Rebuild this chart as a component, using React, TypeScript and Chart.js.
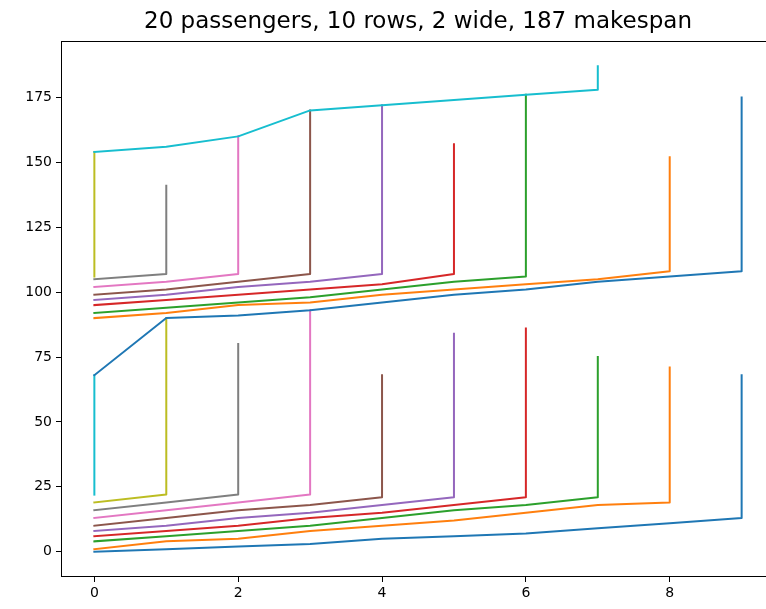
import { useEffect, useRef } from "react";
import { Chart, registerables } from "chart.js";

Chart.register(...registerables);

const TITLE = "20 passengers, 10 rows, 2 wide, 187 makespan";
const X_TICKS = [0, 2, 4, 6, 8];
const Y_TICKS = [0, 25, 50, 75, 100, 125, 150, 175];
const COLORS = ["#1f77b4", "#ff7f0e", "#2ca02c", "#d62728", "#9467bd", "#8c564b", "#e377c2", "#7f7f7f", "#bcbd22", "#17becf"];

// time at which each passenger reaches row 0,1,2,... (aisle walk), first batch
const walk0 = [0, 1, 2, 3, 5, 6, 7, 9, 11, 13];
const walk1 = [1, 4, 5, 8, 10, 12, 15, 18, 19];
const walk2 = [4, 6, 8, 10, 13, 16, 18, 21];
const walk3 = [6, 8, 10, 13, 15, 18, 21];
const walk4 = [8, 10, 13, 15, 18, 21];
const walk5 = [10, 13, 16, 18, 21];
const walk6 = [13, 16, 19, 22];
const walk7 = [16, 19, 22];
const walk8 = [19, 22];
const walk9 = [22];
// second batch
const walk10 = [68, 90, 91, 93, 96, 99, 101, 104, 106, 108];
const walk11 = [90, 92, 95, 96, 99, 101, 103, 105, 108];
const walk12 = [92, 94, 96, 98, 101, 104, 106];
const walk13 = [95, 97, 99, 101, 103, 107];
const walk14 = [97, 99, 102, 104, 107];
const walk15 = [99, 101, 104, 107];
const walk16 = [102, 104, 107];
const walk17 = [105, 107];
const walk18 = [106];
const walk19 = [154, 156, 160, 170, 172, 174, 176, 178];

// time at which each passenger is finally seated (end of vertical segment)
const seatedAt = [68, 71, 75, 86, 84, 68, 93, 80, 90, 68, 175, 152, 176, 157, 172, 170, 160, 141, 154, 187];

const WALKS = [walk0, walk1, walk2, walk3, walk4, walk5, walk6, walk7, walk8, walk9,
  walk10, walk11, walk12, walk13, walk14, walk15, walk16, walk17, walk18, walk19];

const FONT = "DejaVu Sans";

const spinesPlugin = {
  id: "spines",
  afterDatasetsDraw(chart: any) {
    const { ctx, chartArea } = chart;
    const l = Math.round(chartArea.left) - 0.5;
    const t = Math.round(chartArea.top) - 0.5;
    const r = Math.round(chartArea.right) + 0.5;
    const b = Math.round(chartArea.bottom) + 0.5;
    ctx.save();
    ctx.strokeStyle = "#000";
    ctx.lineWidth = 1;
    ctx.strokeRect(l, t, r - l, b - t);
    ctx.restore();
  },
};

export default function App() {
  const ref = useRef<HTMLCanvasElement>(null);
  useEffect(() => {
    if (!ref.current) return;
    const datasets = WALKS.map((w, i) => {
      const pts = w.map((t, k) => ({ x: k, y: t }));
      pts.push({ x: w.length - 1, y: seatedAt[i] });
      const c = COLORS[i % 10];
      return {
        label: "p" + i,
        data: pts,
        showLine: true,
        borderColor: c,
        backgroundColor: c,
        borderWidth: 2,
        pointRadius: 0,
        fill: false,
        tension: 0,
        borderCapStyle: "square",
        borderJoinStyle: "round",
        order: 20 - i,
      };
    });
    const chart = new Chart(ref.current, {
      type: "scatter",
      data: { datasets } as any,
      options: {
        responsive: false,
        animation: false,
        events: [],
        layout: { padding: { left: 0, right: 6, top: 0, bottom: 0 } },
        plugins: {
          legend: { display: false },
          tooltip: { enabled: false },
          title: {
            display: true,
            text: TITLE,
            fullSize: false,
            color: "#000",
            font: { family: FONT, size: 23, weight: "normal", lineHeight: 1.2 },
            padding: { top: 8.4, bottom: 6.0 },
          },
        },
        scales: {
          x: {
            type: "linear",
            min: -0.45,
            max: 9.45,
            afterFit: (s: any) => { s.height = 33; },
            afterBuildTicks: (s: any) => { s.ticks = X_TICKS.map((v) => ({ value: v })); },
            grid: { display: true, drawOnChartArea: false, drawTicks: true, tickLength: 6, color: "#000", lineWidth: 1 },
            border: { display: false },
            ticks: { color: "#000", font: { family: FONT, size: 14 }, padding: 3, maxRotation: 0 },
          },
          y: {
            type: "linear",
            min: -9.35,
            max: 196.35,
            afterFit: (s: any) => { s.width = 62; },
            afterBuildTicks: (s: any) => { s.ticks = Y_TICKS.map((v) => ({ value: v })); },
            grid: { display: true, drawOnChartArea: false, drawTicks: true, tickLength: 6, color: "#000", lineWidth: 1 },
            border: { display: false },
            ticks: { color: "#000", font: { family: FONT, size: 14 }, padding: 4 },
          },
        },
      } as any,
      plugins: [spinesPlugin],
    });
    return () => chart.destroy();
  }, []);
  return (
    <div style={{ position: "fixed", left: 0, top: 0, width: 766, height: 609, overflow: "hidden", background: "#fff" }}>
      <canvas ref={ref} width={780} height={609} style={{ width: 780, height: 609, display: "block" }} />
    </div>
  );
}
